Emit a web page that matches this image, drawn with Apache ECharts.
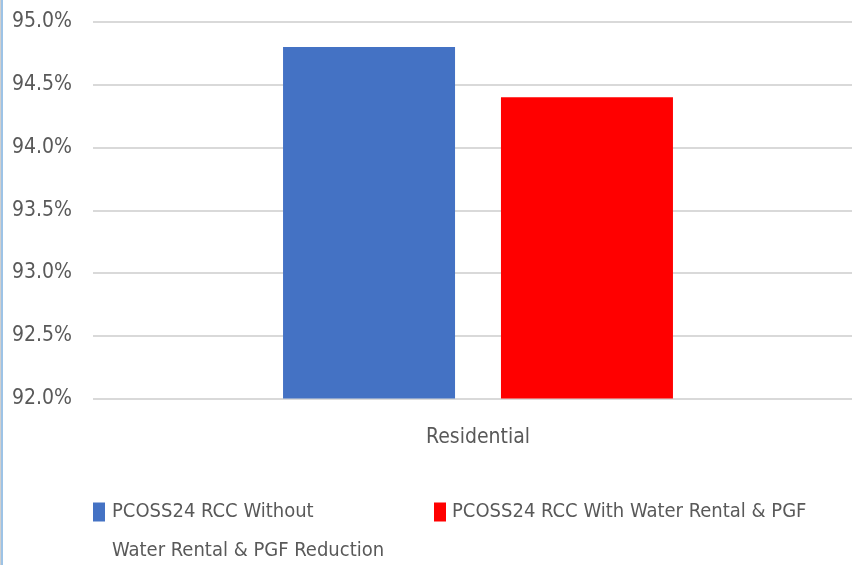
<!DOCTYPE html>
<html>
<head>
<meta charset="utf-8">
<script src="https://cdn.jsdelivr.net/npm/echarts@6/dist/echarts.min.js"></script>
<style>
  html, body { margin: 0; padding: 0; background: #fff; }
  #frame { position: absolute; left: 0; top: 0; width: 852px; height: 565px;
           border-left: 1px solid #d0d0d0; box-sizing: border-box; }
  #edge { position: absolute; left: 1px; top: 0; width: 2px; height: 565px; background: #9dc3e6; }
  #chart { position: absolute; left: 0; top: 0; width: 852px; height: 565px; }
</style>
</head>
<body>
<div id="frame"></div>
<div id="edge"></div>
<div id="chart"></div>
<script>
// Residential rate-of-cost-coverage comparison (values in percent)
const categories = ['Residential'];
const seriesNames = [
  'PCOSS24 RCC Without Water Rental & PGF Reduction',
  'PCOSS24 RCC With Water Rental & PGF'
];
// legend wording, split where the first entry wraps
const legendFirstLine = 'PCOSS24 RCC Without';
const legendSecondLine = 'Water Rental & PGF Reduction';
const withoutReduction = [94.8];
const withReduction = [94.4];
const yTicks = { min: 92.0, max: 95.0, step: 0.5 };

const FONT = '"DejaVu Sans Condensed", Roboto, sans-serif';
const TEXT = '#595959';

const chart = echarts.init(document.getElementById('chart'), null, { renderer: 'canvas' });
chart.setOption({
  animation: false,
  backgroundColor: 'transparent',
  grid: {
    left: 93, width: 770, top: 22, bottom: 166.5,
    containLabel: false, outerBoundsMode: 'none'
  },
  xAxis: {
    type: 'category',
    data: categories,
    axisLine: { show: false },
    axisTick: { show: false },
    axisLabel: { color: TEXT, fontFamily: FONT, fontSize: 21, margin: 29 }
  },
  yAxis: {
    type: 'value',
    min: yTicks.min,
    max: yTicks.max,
    interval: yTicks.step,
    axisLine: { show: false },
    axisTick: { show: false },
    splitLine: { lineStyle: { color: '#d9d9d9', width: 2 } },
    axisLabel: {
      color: TEXT, fontFamily: FONT, fontSize: 21, margin: 21,
      formatter: v => v.toFixed(1) + '%'
    }
  },
  legend: [
    {
      data: [seriesNames[0]],
      formatter: () => legendFirstLine,
      left: 93, top: 502, padding: 0,
      itemWidth: 12, itemHeight: 19, icon: 'rect',
      textStyle: { color: TEXT, fontFamily: FONT, fontSize: 20, padding: [0, 0, 0, 2] }
    },
    {
      data: [seriesNames[1]],
      left: 434, top: 502, padding: 0,
      itemWidth: 12, itemHeight: 19, icon: 'rect',
      textStyle: { color: TEXT, fontFamily: FONT, fontSize: 20, padding: [0, 0, 0, 1] }
    }
  ],
  graphic: [
    {
      type: 'text', left: 112, top: 541,
      style: { text: legendSecondLine, fill: TEXT, font: '20px ' + FONT }
    }
  ],
  series: [
    {
      name: seriesNames[0], type: 'bar', data: withoutReduction,
      barWidth: 172, barGap: '26.7%',
      itemStyle: { color: '#4472c4' }
    },
    {
      name: seriesNames[1], type: 'bar', data: withReduction,
      barWidth: 172, barGap: '26.7%',
      itemStyle: { color: '#ff0000' }
    }
  ]
});
</script>
</body>
</html>
